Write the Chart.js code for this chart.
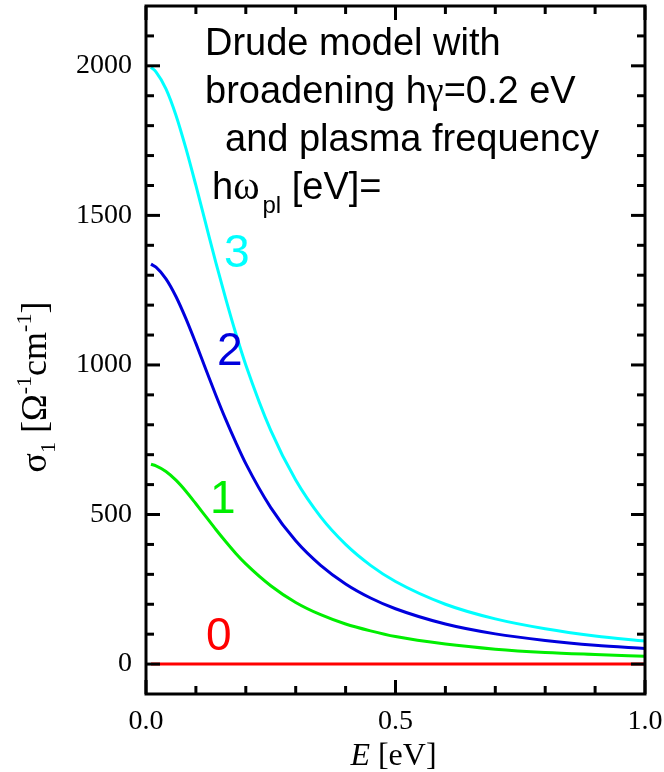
<!DOCTYPE html>
<html>
<head>
<meta charset="utf-8">
<script src="https://cdn.jsdelivr.net/npm/chart.js@4.4.1/dist/chart.umd.min.js"></script>
<style>
html,body{margin:0;padding:0;background:#fff;}
#wrap{width:664px;height:772px;}
</style>
</head>
<body>
<div id="wrap"><canvas id="c" width="664" height="772"></canvas></div>
<script>
// ---- data ----
const energy = [0.01,0.02,0.04,0.06,0.08,0.10,0.12,0.14,0.16,0.18,0.20,0.25,0.30,0.35,0.40,0.45,0.50,0.60,0.70,0.80,0.90,1.00];
const sigmaW3 = [1995,1980,1923,1835,1724,1600,1471,1342,1220,1105,1000,781,615,492,400,330,276,200,151,118,94,77];
const sigmaW2 = [1337,1327,1288,1229,1155,1072,985,899,817,741,670,523,412,330,268,221,185,134,101,79,63,52];
const sigmaW1 = [668,663,644,615,578,536,493,450,409,370,335,262,206,165,134,111,92,67,50,39,32,26];
const sigmaW0 = [0,0,0,0,0,0,0,0,0,0,0,0,0,0,0,0,0,0,0,0,0,0];
const seriesNames = ['3','2','1','0'];
const xTicks = [0.0,0.5,1.0];
const xMinor = [0.1,0.2,0.3,0.4,0.6,0.7,0.8,0.9];
const yTicks = [0,500,1000,1500,2000];
const yMinor = [-100,100,200,300,400,600,700,800,900,1100,1200,1300,1400,1600,1700,1800,1900,2100,2200];

const colors = {'3':'#00ffff','2':'#0000dd','1':'#00ee00','0':'#ff0000'};
const pts = arr => energy.map((e,i)=>({x:e,y:arr[i]}));

const SERIF = '"Liberation Serif","Times New Roman",serif';
const SANS = '"Liberation Sans",Arial,sans-serif';

const decor = {
  id:'decor',
  afterDraw(chart){
    const ctx = chart.ctx, a = chart.chartArea;
    const xs = chart.scales.x, ys = chart.scales.y;
    ctx.save();
    ctx.strokeStyle = '#000';
    ctx.lineWidth = 3;
    ctx.lineCap = 'butt';
    const tick = (vals, len) => {
      vals.forEach(v=>{
        const px = xs.getPixelForValue(v);
        ctx.beginPath(); ctx.moveTo(px,a.bottom); ctx.lineTo(px,a.bottom-len); ctx.stroke();
        ctx.beginPath(); ctx.moveTo(px,a.top); ctx.lineTo(px,a.top+len); ctx.stroke();
      });
    };
    tick(xTicks,14); tick(xMinor,8);
    const ytick = (vals,len) => {
      vals.forEach(v=>{
        const py = ys.getPixelForValue(v);
        if (py < a.top+1 || py > a.bottom-1) return;
        ctx.beginPath(); ctx.moveTo(a.left,py); ctx.lineTo(a.left+len,py); ctx.stroke();
        ctx.beginPath(); ctx.moveTo(a.right,py); ctx.lineTo(a.right-len,py); ctx.stroke();
      });
    };
    ytick(yTicks,14); ytick(yMinor,8);
    ctx.lineWidth = 3;
    ctx.strokeRect(a.left, a.top, a.right-a.left, a.bottom-a.top);

    // x axis title: E [eV]
    ctx.fillStyle = '#000';
    ctx.textBaseline = 'alphabetic';
    ctx.textAlign = 'left';
    ctx.font = 'italic 32px '+SERIF;
    const wE = ctx.measureText('E').width;
    ctx.font = '32px '+SERIF;
    const wR = ctx.measureText(' [eV]').width;
    let x0 = (a.left+a.right)/2 - (wE+wR)/2 - 2;
    ctx.font = 'italic 32px '+SERIF; ctx.fillText('E', x0, 765);
    ctx.font = '32px '+SERIF; ctx.fillText(' [eV]', x0+wE, 765);

    // y axis title: sigma_1 [Omega^-1 cm^-1]
    const parts = [
      {t:'σ', f:36, dy:0},
      {t:'1', f:22, dy:9},
      {t:' [Ω', f:36, dy:0},
      {t:'-1', f:22, dy:-15},
      {t:'cm', f:36, dy:0},
      {t:'-1', f:22, dy:-15},
      {t:']', f:36, dy:0}
    ];
    let tot = 0;
    parts.forEach(p=>{ctx.font = p.f+'px '+SERIF; p.w = ctx.measureText(p.t).width; tot += p.w;});
    ctx.save();
    ctx.translate(46, 387);
    ctx.rotate(-Math.PI/2);
    let cx = -tot/2;
    parts.forEach(p=>{ctx.font = p.f+'px '+SERIF; ctx.fillText(p.t, cx, p.dy); cx += p.w;});
    ctx.restore();

    // annotation text
    ctx.fillStyle = '#000';
    ctx.font = '38px '+SANS;
    ctx.fillText('Drude model with', 205, 55);
    let x = 205;
    ctx.font = '38px '+SANS; ctx.fillText('broadening h', x, 103); x += ctx.measureText('broadening h').width;
    ctx.font = '38px '+SERIF; ctx.fillText('γ', x, 103); x += ctx.measureText('γ').width;
    ctx.font = '38px '+SANS; ctx.fillText('=0.2 eV', x, 103);
    ctx.fillText('and plasma frequency', 225, 151);
    x = 212;
    ctx.font = '38px '+SANS; ctx.fillText('h', x, 199); x += ctx.measureText('h').width;
    ctx.font = '40px '+SERIF; ctx.fillText('ω', x, 199); x += ctx.measureText('ω').width + 3;
    ctx.font = '24px '+SANS; ctx.fillText('pl', x, 213); x += ctx.measureText('pl').width;
    ctx.font = '38px '+SANS; ctx.fillText(' [eV]=', x, 199);

    // curve labels
    ctx.font = '46px '+SANS;
    const lab = [['3',224,267],['2',217,365],['1',210,513],['0',206,650]];
    lab.forEach(l=>{ctx.fillStyle = colors[l[0]]; ctx.fillText(l[0], l[1], l[2]);});
    ctx.restore();
  }
};

const mk = (name, arr) => ({
  label: name,
  data: pts(arr),
  borderColor: colors[name],
  backgroundColor: colors[name],
  borderWidth: 3,
  pointRadius: 0,
  fill: false,
  cubicInterpolationMode: 'monotone'
});

const noPad = s => { s.paddingTop = 0; s.paddingBottom = 0; s.paddingLeft = 0; s.paddingRight = 0; };

new Chart(document.getElementById('c'), {
  type: 'line',
  data: { datasets: [mk('3',sigmaW3), mk('2',sigmaW2), mk('1',sigmaW1), mk('0',sigmaW0)] },
  options: {
    responsive: false,
    animation: false,
    layout: { padding: { left: 0, right: 19, top: 6, bottom: 0 } },
    plugins: { legend: {display:false}, tooltip: {enabled:false}, title:{display:false} },
    scales: {
      x: {
        type: 'linear', min: 0, max: 1, position: 'bottom',
        grid: { display:false, drawTicks:false },
        border: { display:false },
        afterFit: s => { s.height = 78; noPad(s); },
        afterBuildTicks: s => { s.ticks = xTicks.map(v=>({value:v})); },
        ticks: { color:'#000', padding: 11, maxRotation:0, autoSkip:false,
                 font: { family: SERIF, size: 28 },
                 callback: v => Number(v).toFixed(1) }
      },
      y: {
        type: 'linear', min: -100, max: 2200,
        grid: { display:false, drawTicks:false },
        border: { display:false },
        afterFit: s => { s.width = 146; noPad(s); },
        afterBuildTicks: s => { s.ticks = yTicks.map(v=>({value:v})); },
        ticks: { color:'#000', padding: 14, autoSkip:false,
                 font: { family: SERIF, size: 28 },
                 callback: v => String(v) }
      }
    }
  },
  plugins: [decor]
});
</script>
</body>
</html>
